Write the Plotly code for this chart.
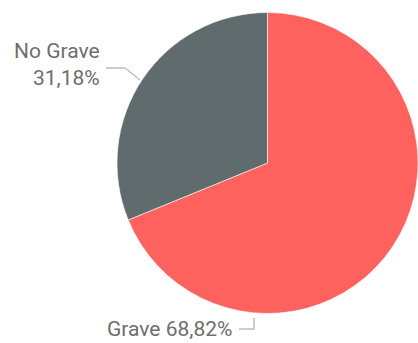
import plotly.graph_objects as go

labels = ["Grave", "No Grave"]
values = [68.82, 31.18]
colors = ["#FD625E", "#5F6B6D"]

W, H = 418, 343
CX, CY, R = 268, 163, 151  # pixel geometry of pie in screenshot

def px(x):
    return x / W

def py(y):
    return 1 - y / H

fig = go.Figure(go.Pie(
    labels=labels,
    values=values,
    sort=False,
    direction="clockwise",
    rotation=0,
    textinfo="none",
    hoverinfo="label+percent",
    marker=dict(colors=colors, line=dict(color="rgba(255,255,255,0.6)", width=1)),
    domain=dict(x=[px(CX - R), min(1.0, px(CX + R))], y=[py(CY + R), py(CY - R)]),
    showlegend=False,
))

font = dict(family="Roboto, DejaVu Sans", size=21, color="#6e6e6e")
fmt = lambda v: f"{v:.2f}%".replace(".", ",")

fig.add_annotation(x=px(102), y=py(65), xref="paper", yref="paper",
                   text=f"{labels[1]}<br>{fmt(values[1])}", showarrow=False,
                   xanchor="right", yanchor="middle", align="right", font=font)
fig.add_annotation(x=px(234), y=py(329), xref="paper", yref="paper",
                   text=f"{labels[0]} {fmt(values[0])}", showarrow=False,
                   xanchor="right", yanchor="middle", align="right", font=font)

line = dict(color="#9a9a9a", width=1)
fig.add_shape(type="path", xref="paper", yref="paper",
              path=f"M {px(106)} {py(68)} L {px(125)} {py(68)} L {px(140)} {py(80)}",
              line=line)
fig.add_shape(type="path", xref="paper", yref="paper",
              path=f"M {px(239)} {py(329)} L {px(254)} {py(329)} L {px(254)} {py(318)}",
              line=line)

fig.update_layout(width=W, height=H, margin=dict(l=0, r=0, t=0, b=0),
                  paper_bgcolor="white", plot_bgcolor="white")
fig.write_html("out.html",
               config={"displayModeBar": False},
               post_script="document.body.style.margin='0';document.body.style.overflow='hidden';")
